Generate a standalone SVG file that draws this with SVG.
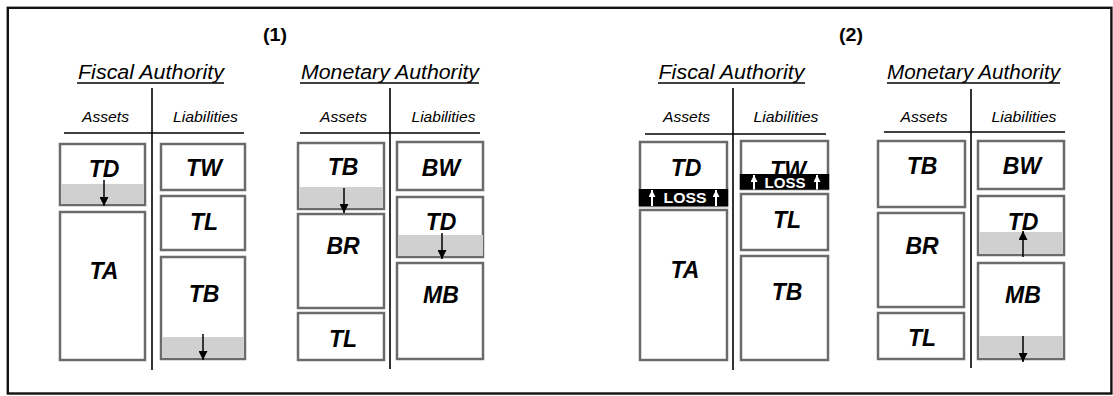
<svg xmlns="http://www.w3.org/2000/svg" width="1113" height="396" viewBox="0 0 1113 396">
<style>
text{font-family:"Liberation Sans",Arial,sans-serif;}
.num{font-size:19px;font-weight:bold;text-anchor:middle;fill:#000;}
.ttl{font-size:20.5px;font-style:italic;text-anchor:middle;fill:#000;}
.col{font-size:15px;font-style:italic;text-anchor:middle;fill:#000;}
.lab{font-size:23px;font-style:italic;font-weight:bold;text-anchor:middle;fill:#000;}
.loss{font-size:15px;font-weight:bold;text-anchor:middle;fill:#fff;}
.box{fill:#fff;stroke:#6b6b6b;stroke-width:2.5;}
.band{fill:#d0d0d0;stroke:none;}
.rule{stroke:#000;stroke-width:1.6;fill:none;}
.ul{stroke:#000;stroke-width:1.4;}
.arr{stroke:#000;stroke-width:1.5;fill:none;marker-end:url(#ah);}
.warr{stroke:#fff;stroke-width:2;fill:none;marker-end:url(#wah);}
.bar{fill:#000;}
</style>
<defs>
<marker id="ah" viewBox="0 0 10 10" refX="10" refY="5" markerWidth="9" markerHeight="9" markerUnits="userSpaceOnUse" orient="auto">
<path d="M0,0 L10,5 L0,10 Z" fill="#000"/>
</marker>
<marker id="wah" viewBox="0 0 10 10" refX="10" refY="5" markerWidth="7" markerHeight="7" markerUnits="userSpaceOnUse" orient="auto">
<path d="M0,0 L10,5 L0,10 Z" fill="#fff"/>
</marker>
</defs>
<rect x="0" y="0" width="1113" height="396" fill="#fff"/>
<rect x="7.8" y="7.8" width="1103.6" height="385.7" fill="none" stroke="#111" stroke-width="2.4"/>

<g id="headers">
<text class="num" x="275" y="41" textLength="24" lengthAdjust="spacingAndGlyphs">(1)</text>
<text class="num" x="851" y="41" textLength="24" lengthAdjust="spacingAndGlyphs">(2)</text>

<text class="ttl" x="151" y="79" textLength="146" lengthAdjust="spacingAndGlyphs">Fiscal Authority</text>
<line class="ul" x1="77" y1="83" x2="224" y2="83"/>
<text class="col" x="105.5" y="122" textLength="47" lengthAdjust="spacingAndGlyphs">Assets</text>
<text class="col" x="205.5" y="122" textLength="65" lengthAdjust="spacingAndGlyphs">Liabilities</text>
<line class="rule" x1="152" y1="88" x2="152" y2="370"/>
<line class="rule" x1="64" y1="133" x2="244" y2="133"/>

<text class="ttl" x="390" y="79" textLength="178" lengthAdjust="spacingAndGlyphs">Monetary Authority</text>
<line class="ul" x1="300" y1="83" x2="479" y2="83"/>
<text class="col" x="343.5" y="122" textLength="47" lengthAdjust="spacingAndGlyphs">Assets</text>
<text class="col" x="443.5" y="122" textLength="64" lengthAdjust="spacingAndGlyphs">Liabilities</text>
<line class="rule" x1="390" y1="88" x2="390" y2="369"/>
<line class="rule" x1="300" y1="133" x2="480" y2="133"/>

<text class="ttl" x="731.5" y="79" textLength="146" lengthAdjust="spacingAndGlyphs">Fiscal Authority</text>
<line class="ul" x1="658" y1="83" x2="805" y2="83"/>
<text class="col" x="686.5" y="122" textLength="47" lengthAdjust="spacingAndGlyphs">Assets</text>
<text class="col" x="786" y="122" textLength="65" lengthAdjust="spacingAndGlyphs">Liabilities</text>
<line class="rule" x1="733" y1="88" x2="733" y2="370"/>
<line class="rule" x1="645" y1="134" x2="826" y2="134"/>

<text class="ttl" x="973.5" y="79" textLength="173" lengthAdjust="spacingAndGlyphs">Monetary Authority</text>
<line class="ul" x1="887" y1="83" x2="1060" y2="83"/>
<text class="col" x="924" y="122" textLength="47" lengthAdjust="spacingAndGlyphs">Assets</text>
<text class="col" x="1024" y="122" textLength="65" lengthAdjust="spacingAndGlyphs">Liabilities</text>
<line class="rule" x1="971" y1="89" x2="971" y2="368"/>
<line class="rule" x1="884" y1="132" x2="1065" y2="132"/>
</g>

<!-- Panel (1): Fiscal Authority -->
<g id="fa1-td"><rect class="box" x="60" y="144" width="85" height="61"/><rect class="band" x="61.25" y="184" width="82.5" height="19.75"/><text class="lab" x="104" y="177">TD</text></g>
<g id="fa1-ta"><rect class="box" x="60" y="212" width="85" height="148"/><text class="lab" x="104" y="279">TA</text></g>
<g id="fa1-tw"><rect class="box" x="161" y="144" width="84" height="46"/><text class="lab" x="204" y="176">TW</text></g>
<g id="fa1-tl"><rect class="box" x="161" y="196" width="84" height="54"/><text class="lab" x="204" y="230">TL</text></g>
<g id="fa1-tb"><rect class="box" x="161" y="257" width="84" height="102"/><rect class="band" x="162.25" y="337" width="81.5" height="20.75"/><text class="lab" x="204" y="302">TB</text></g>

<!-- Panel (1): Monetary Authority -->
<g id="ma1-tb"><rect class="box" x="298" y="143" width="86" height="66"/><rect class="band" x="299.25" y="187" width="83.5" height="20.75"/><text class="lab" x="343" y="175">TB</text></g>
<g id="ma1-br"><rect class="box" x="298" y="214" width="86" height="94"/><text class="lab" x="343" y="254">BR</text></g>
<g id="ma1-tl"><rect class="box" x="298" y="313" width="86" height="47"/><text class="lab" x="343" y="347">TL</text></g>
<g id="ma1-bw"><rect class="box" x="397" y="142" width="86" height="48"/><text class="lab" x="441" y="176">BW</text></g>
<g id="ma1-td"><rect class="box" x="397" y="197" width="86" height="60"/><rect class="band" x="398.25" y="235" width="84.75" height="20.75"/><text class="lab" x="441" y="230">TD</text></g>
<g id="ma1-mb"><rect class="box" x="397" y="263" width="86" height="96"/><text class="lab" x="441" y="303">MB</text></g>

<!-- Panel (2): Fiscal Authority -->
<g id="fa2-td"><rect class="box" x="640" y="142" width="87" height="64"/><text class="lab" x="686" y="176">TD</text>
<rect class="bar" x="638.8" y="189" width="89.4" height="17"/><text class="loss" x="685" y="203" textLength="43" lengthAdjust="spacingAndGlyphs">LOSS</text></g>
<g id="fa2-ta"><rect class="box" x="640" y="210" width="87" height="150"/><text class="lab" x="685" y="278">TA</text></g>
<g id="fa2-tw"><rect class="box" x="741" y="141" width="87" height="48"/><text class="lab" x="788" y="178">TW</text>
<rect class="bar" x="739.8" y="174" width="89.4" height="15.5"/><text class="loss" x="785" y="187.5" textLength="41" lengthAdjust="spacingAndGlyphs">LOSS</text></g>
<g id="fa2-tl"><rect class="box" x="741" y="194" width="87" height="56"/><text class="lab" x="787" y="228">TL</text></g>
<g id="fa2-tb"><rect class="box" x="741" y="256" width="87" height="104"/><text class="lab" x="787" y="300">TB</text></g>

<!-- Panel (2): Monetary Authority -->
<g id="ma2-tb"><rect class="box" x="878" y="141" width="87" height="66"/><text class="lab" x="922" y="174">TB</text></g>
<g id="ma2-br"><rect class="box" x="878" y="213" width="86" height="94"/><text class="lab" x="922" y="254">BR</text></g>
<g id="ma2-tl"><rect class="box" x="878" y="313" width="86" height="46"/><text class="lab" x="922" y="346">TL</text></g>
<g id="ma2-bw"><rect class="box" x="978" y="141" width="86" height="48"/><text class="lab" x="1022" y="174">BW</text></g>
<g id="ma2-td"><rect class="box" x="978" y="196" width="86" height="59"/><rect class="band" x="979.25" y="232" width="83.5" height="21.75"/><text class="lab" x="1023" y="230">TD</text></g>
<g id="ma2-mb"><rect class="box" x="978" y="263" width="86" height="96"/><rect class="band" x="979.25" y="336" width="83.5" height="21.75"/><text class="lab" x="1023" y="303">MB</text></g>

<g id="connectors">
<line class="arr" x1="104" y1="180" x2="104" y2="206"/>
<line class="arr" x1="203" y1="334" x2="203" y2="360"/>
<line class="arr" x1="344" y1="188" x2="344" y2="213"/>
<line class="arr" x1="442" y1="233" x2="442" y2="259"/>
<line class="arr" x1="1023" y1="257" x2="1023" y2="231"/>
<line class="arr" x1="1023" y1="336" x2="1023" y2="362"/>
<line class="warr" x1="652" y1="206" x2="652" y2="190"/>
<line class="warr" x1="716" y1="206" x2="716" y2="190"/>
<line class="warr" x1="754" y1="189.5" x2="754" y2="175"/>
<line class="warr" x1="817" y1="189.5" x2="817" y2="175"/>
</g>
</svg>
